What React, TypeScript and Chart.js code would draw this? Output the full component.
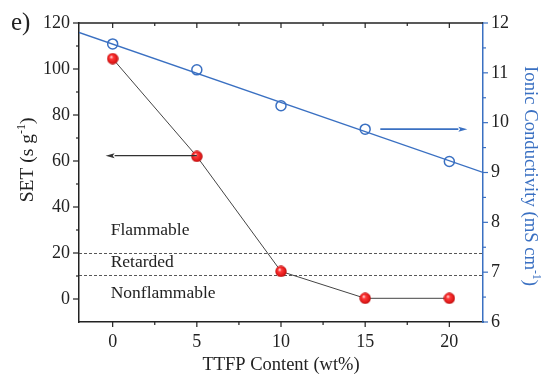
import React, { useEffect, useRef } from "react";
import { Chart, registerables } from "chart.js";

Chart.register(...registerables);

// ---- data ----
const ttfpContent = [0, 5, 10, 15, 20];
const setValues = [104.5, 62, 12, 0.3, 0.3];
const conductivity = [11.58, 11.06, 10.34, 9.87, 9.22];
const fitX = [-2, 22];
const fitConductivity = [11.81, 9.0];
const thresholdSET = [20, 10.5];
const regionLabels = ["Flammable", "Retarded", "Nonflammable"];
const regionLabelSET = [27.8, 13.9, 0.6];
const regionLabelX = 0;
const xTicks = [0, 5, 10, 15, 20];
const yTicks = [0, 20, 40, 60, 80, 100, 120];
const y2Ticks = [6, 7, 8, 9, 10, 11, 12];
const setArrowX = [5, -0.42];
const setArrowY = 62.3;
const condArrowX = [15.9, 21.07];
const condArrowY = 9.87;

const BLUE = "#3a70c2";
const FONT = "'Liberation Serif', 'Times New Roman', serif";

function makeSphere(size: number): HTMLCanvasElement {
  const c = document.createElement("canvas");
  c.width = size;
  c.height = size;
  const g = c.getContext("2d")!;
  const r = size / 2;
  const grad = g.createRadialGradient(r * 0.75, r * 0.7, 0.5, r, r, r);
  grad.addColorStop(0, "#ffd0d0");
  grad.addColorStop(0.25, "#ff3a3a");
  grad.addColorStop(0.75, "#e01818");
  grad.addColorStop(1, "#a80808");
  g.fillStyle = grad;
  g.beginPath();
  g.arc(r, r, r - 0.3, 0, Math.PI * 2);
  g.fill();
  return c;
}

function drawSupText(
  ctx: CanvasRenderingContext2D,
  parts: { t: string; sup?: boolean }[],
  size: number,
  supSize: number
) {
  let total = 0;
  const widths = parts.map((p) => {
    ctx.font = `${p.sup ? supSize : size}px ${FONT}`;
    const w = ctx.measureText(p.t).width;
    total += w;
    return w;
  });
  let x = -total / 2;
  parts.forEach((p, i) => {
    ctx.font = `${p.sup ? supSize : size}px ${FONT}`;
    ctx.fillText(p.t, x, p.sup ? -size * 0.42 : 0);
    x += widths[i];
  });
}

const decorPlugin = {
  id: "decor",
  beforeDatasetsDraw(chart: any) {
    const ctx = chart.ctx as CanvasRenderingContext2D;
    const { left, right } = chart.chartArea;
    const y = chart.scales.y;
    const x = chart.scales.x;
    ctx.save();
    ctx.strokeStyle = "#444";
    ctx.lineWidth = 0.9;
    ctx.setLineDash([3, 2]);
    thresholdSET.forEach((v) => {
      const py = Math.round(y.getPixelForValue(v)) + 0.5;
      ctx.beginPath();
      ctx.moveTo(left, py);
      ctx.lineTo(right, py);
      ctx.stroke();
    });
    ctx.setLineDash([]);
    ctx.fillStyle = "#222";
    ctx.font = `17.5px ${FONT}`;
    ctx.textAlign = "left";
    ctx.textBaseline = "alphabetic";
    regionLabels.forEach((t, i) => {
      ctx.fillText(t, x.getPixelForValue(regionLabelX) - 2, y.getPixelForValue(regionLabelSET[i]));
    });
    ctx.restore();
  },
  afterDraw(chart: any) {
    const ctx = chart.ctx as CanvasRenderingContext2D;
    const { left, right, top, bottom } = chart.chartArea;
    const xs = chart.scales.x;
    const ys = chart.scales.y;
    const y2 = chart.scales.y2;
    ctx.save();
    // top border
    ctx.strokeStyle = "#222";
    ctx.lineWidth = 1.5;
    ctx.beginPath();
    ctx.moveTo(left, top);
    ctx.lineTo(right, top);
    ctx.stroke();
    // x ticks
    ctx.lineWidth = 1.2;
    for (let v = -2.5; v <= 22.5; v += 2.5) {
      const px = xs.getPixelForValue(v);
      if (px < left + 1 || px > right - 1) continue;
      const major = v % 5 === 0;
      const len = major ? 5 : 3;
      ctx.beginPath();
      ctx.moveTo(px, bottom);
      ctx.lineTo(px, bottom + len);
      ctx.moveTo(px, top);
      ctx.lineTo(px, top + len);
      ctx.stroke();
    }
    // left y ticks
    for (let v = -10; v <= 120; v += 10) {
      const py = ys.getPixelForValue(v);
      if (py > bottom - 1 || py < top - 1) continue;
      const major = v % 20 === 0;
      const len = major ? 6 : 3;
      ctx.beginPath();
      ctx.moveTo(left, py);
      ctx.lineTo(left - len, py);
      ctx.stroke();
    }
    // right y ticks
    ctx.strokeStyle = BLUE;
    for (let v = 6; v <= 12.001; v += 0.5) {
      const py = y2.getPixelForValue(v);
      const major = Math.abs(v - Math.round(v)) < 1e-6;
      const len = major ? 5 : 3;
      ctx.beginPath();
      ctx.moveTo(right, py);
      ctx.lineTo(right + len, py);
      ctx.stroke();
    }
    // arrows
    const arrow = (x1: number, x2: number, py: number, color: string, w: number) => {
      ctx.strokeStyle = color;
      ctx.fillStyle = color;
      ctx.lineWidth = w;
      const dir = Math.sign(x2 - x1);
      const head = 9;
      ctx.beginPath();
      ctx.moveTo(x1, py);
      ctx.lineTo(x2 - dir * head, py);
      ctx.stroke();
      ctx.beginPath();
      ctx.moveTo(x2, py);
      ctx.lineTo(x2 - dir * head, py - 2.5);
      ctx.lineTo(x2 - dir * head * 0.8, py);
      ctx.lineTo(x2 - dir * head, py + 2.5);
      ctx.closePath();
      ctx.fill();
    };
    arrow(xs.getPixelForValue(setArrowX[0]), xs.getPixelForValue(setArrowX[1]), ys.getPixelForValue(setArrowY), "#333", 1.2);
    arrow(xs.getPixelForValue(condArrowX[0]), xs.getPixelForValue(condArrowX[1]), y2.getPixelForValue(condArrowY), BLUE, 1.6);

    // titles
    ctx.textBaseline = "alphabetic";
    ctx.textAlign = "left";
    ctx.fillStyle = "#222";
    ctx.save();
    ctx.translate(33, 160);
    ctx.rotate(-Math.PI / 2);
    drawSupText(ctx, [{ t: "SET (s g" }, { t: "-1", sup: true }, { t: ")" }], 19.5, 12);
    ctx.restore();

    ctx.save();
    ctx.fillStyle = BLUE;
    ctx.translate(525, 176);
    ctx.rotate(Math.PI / 2);
    drawSupText(ctx, [{ t: "Ionic Conductivity (mS cm" }, { t: "-1", sup: true }, { t: ")" }], 18.7, 11.5);
    ctx.restore();

    ctx.save();
    ctx.translate((left + right) / 2, 370);
    drawSupText(ctx, [{ t: "TTFP Content (wt%)" }], 18.5, 11);
    ctx.restore();

    ctx.font = `25px ${FONT}`;
    ctx.fillStyle = "#222";
    ctx.fillText("e)", 11, 30);
    ctx.restore();
  },
};

export default function App() {
  const ref = useRef<HTMLCanvasElement | null>(null);
  useEffect(() => {
    if (!ref.current) return;
    const sphere = makeSphere(12);
    const chart = new Chart(ref.current, {
      type: "line",
      data: {
        datasets: [
          {
            label: "Fit",
            data: fitX.map((x, i) => ({ x, y: fitConductivity[i] })),
            yAxisID: "y2",
            borderColor: BLUE,
            borderWidth: 1.3,
            pointRadius: 0,
            fill: false,
            order: 3,
          },
          {
            label: "Ionic Conductivity",
            data: ttfpContent.map((x, i) => ({ x, y: conductivity[i] })),
            yAxisID: "y2",
            showLine: false,
            pointRadius: 5,
            pointBorderWidth: 1.5,
            pointBorderColor: BLUE,
            pointBackgroundColor: "rgba(255,255,255,0)",
            order: 2,
          },
          {
            label: "SET",
            data: ttfpContent.map((x, i) => ({ x, y: setValues[i] })),
            yAxisID: "y",
            borderColor: "#444",
            borderWidth: 1,
            pointStyle: sphere as any,
            pointRadius: 6,
            order: 1,
          },
        ],
      },
      options: {
        responsive: false,
        animation: false,
        layout: { padding: { top: 23, left: 0, right: 0, bottom: 0 } },
        plugins: { legend: { display: false }, tooltip: { enabled: false } },
        scales: {
          x: {
            type: "linear",
            min: -2,
            max: 22,
            grid: { display: false, drawTicks: false },
            border: { display: true, color: "#222", width: 1.5 },
            afterBuildTicks: (s: any) => {
              s.ticks = xTicks.map((v) => ({ value: v }));
            },
            afterFit: (s: any) => {
              s.height = 52;
            },
            ticks: { color: "#222", padding: 9, font: { family: FONT, size: 18 } },
          },
          y: {
            type: "linear",
            position: "left",
            min: -10,
            max: 120,
            grid: { display: false, drawTicks: false },
            border: { display: true, color: "#222", width: 1.5 },
            afterBuildTicks: (s: any) => {
              s.ticks = yTicks.map((v) => ({ value: v }));
            },
            afterFit: (s: any) => {
              s.width = 79;
            },
            ticks: { color: "#222", padding: 9, font: { family: FONT, size: 18 } },
          },
          y2: {
            type: "linear",
            position: "right",
            min: 6,
            max: 12,
            grid: { display: false, drawTicks: false },
            border: { display: true, color: BLUE, width: 1.5 },
            afterBuildTicks: (s: any) => {
              s.ticks = y2Ticks.map((v) => ({ value: v }));
            },
            afterFit: (s: any) => {
              s.width = 61;
            },
            ticks: { color: "#222", padding: 8, font: { family: FONT, size: 18 } },
          },
        },
      },
      plugins: [decorPlugin],
    });
    return () => chart.destroy();
  }, []);
  return (
    <div style={{ position: "fixed", left: 0, top: 0, width: 544, height: 374, background: "#fff" }}>
      <canvas ref={ref} width={544} height={374} />
    </div>
  );
}
